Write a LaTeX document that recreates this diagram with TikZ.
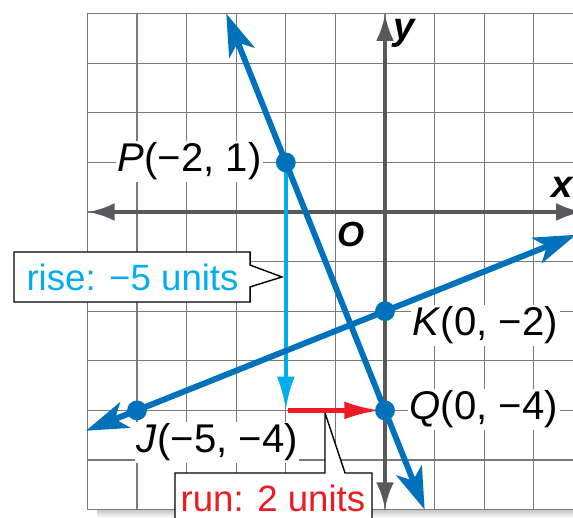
\documentclass[tikz,border=0pt]{standalone}
\usepackage{fontspec}
\setmainfont{Liberation Sans}
\usetikzlibrary{arrows.meta}
\definecolor{lineblue}{HTML}{0072BC}
\definecolor{riseblue}{HTML}{00AEEF}
\definecolor{runred}{HTML}{ED1C24}
\definecolor{axisgray}{HTML}{58595B}
\definecolor{gridgray}{HTML}{7A7A7A}
\begin{document}
\begin{tikzpicture}[
  gridline/.style={gridgray, line width=0.6pt},
  axisline/.style={axisgray, line width=2.8pt, {Latex[length=0.55cm,width=0.36cm]}-{Latex[length=0.55cm,width=0.36cm]}},
  graphline/.style={lineblue, line width=3.4pt, {Stealth[length=0.85cm,width=0.55cm,inset=0.22cm]}-{Stealth[length=0.85cm,width=0.55cm,inset=0.22cm]}},
  risearrow/.style={riseblue, line width=2.5pt, -{Latex[length=0.68cm,width=0.36cm]}},
  runarrow/.style={runred, line width=2.5pt, -{Latex[length=0.72cm,width=0.36cm]}},
  ptlabel/.style={fill=white, inner sep=1pt, font=\fontsize{23}{23}\selectfont},
  axlabel/.style={inner sep=0pt, font=\fontsize{22}{22}\selectfont\bfseries\itshape},
  callout/.style={draw=black, line width=0.8pt, fill=white},
  boxtext/.style={inner sep=0pt, font=\fontsize{21}{21}\selectfont},
  dot/.style={circle, fill=lineblue, inner sep=0pt, minimum size=0.4cm}
]
\useasboundingbox (-7.762,-6.169) rectangle (3.790,4.274);
\begin{scope}
\clip (-7.762,-6.169) rectangle (3.790,4.274);
% shadow under the grid
\shade[top color=gray!45, bottom color=white] (-5.8,-6.0) rectangle (3.8,-6.17);
% grid
\foreach \x in {-6,...,3} \draw[gridline] (\x,-6) -- (\x,4);
\foreach \y in {-6,...,4} \draw[gridline] (-6,\y) -- (3.9,\y);
% labels with white backgrounds
\node[ptlabel] (Plab) at (-3.94,1.02) {\textit{P}(−2, 1)};
\node[ptlabel] (Jlab) at (-3.38,-4.64) {\textit{J}(−5, −4)};
\node[ptlabel] (Klab) at (2.02,-2.28) {\textit{K}(0, −2)};
\node[ptlabel] (Qlab) at (1.99,-3.98) {\textit{Q}(0, −4)};
\node[axlabel] (xlab) at (3.57,0.5) {x};
\node[axlabel] (ylab) at (0.38,3.6) {y};
\node[axlabel, font=\fontsize{20}{20}\selectfont\bfseries\itshape] (olab) at (-0.68,-0.46) {O};
% axes
\coordinate (xl) at (-6,0);
\coordinate (xr) at (4.0,0);
\coordinate (yt) at (0,4);
\coordinate (yb) at (0,-6);
\draw[axisline] (xl) -- (xr);
\draw[axisline] (yb) -- (yt);
% callout boxes
\coordinate (risetip) at (-2.077,-1.31);
\draw[callout] (-7.48,-0.806) -- (-2.72,-0.806) -- (-2.72,-1.07) -- (risetip) -- (-2.72,-1.51) -- (-2.72,-1.815) -- (-7.48,-1.815) -- cycle;
\node[boxtext, text=riseblue] (rise) at (-5.09,-1.31) {rise: −5 units};
\coordinate (runtip) at (-1.21,-4.05);
\draw[callout] (-4.234,-6.4) -- (-4.234,-5.262) -- (-1.21,-5.262) -- (runtip) -- (-0.806,-5.262) -- (-0.262,-5.262) -- (-0.262,-6.4);
\node[boxtext, text=runred] (run) at (-2.26,-5.78) {run: 2 units};
% points
\coordinate (P) at (-2,1);
\coordinate (Q) at (0,-4);
\coordinate (K) at (0,-2);
\coordinate (J) at (-5,-4);
\coordinate (PQtop) at (-3.2,4);
\coordinate (PQbot) at (0.8,-6);
\coordinate (JKl) at (-6.03,-4.41);
\coordinate (JKr) at (3.85,-0.46);
\coordinate (risebot) at (-2,-4);
\coordinate (runstart) at (-1.95,-4);
% rise and run arrows
\draw[risearrow] (P) -- (risebot);
\draw[runarrow] (runstart) -- (-0.1,-4);
% lines
\draw[graphline] (PQtop) -- (PQbot);
\draw[graphline] (JKl) -- (JKr);
% dots
\node[dot] (Pd) at (P) {};
\node[dot] (Qd) at (Q) {};
\node[dot] (Kd) at (K) {};
\node[dot] (Jd) at (J) {};
\end{scope}
\end{tikzpicture}
\end{document}
